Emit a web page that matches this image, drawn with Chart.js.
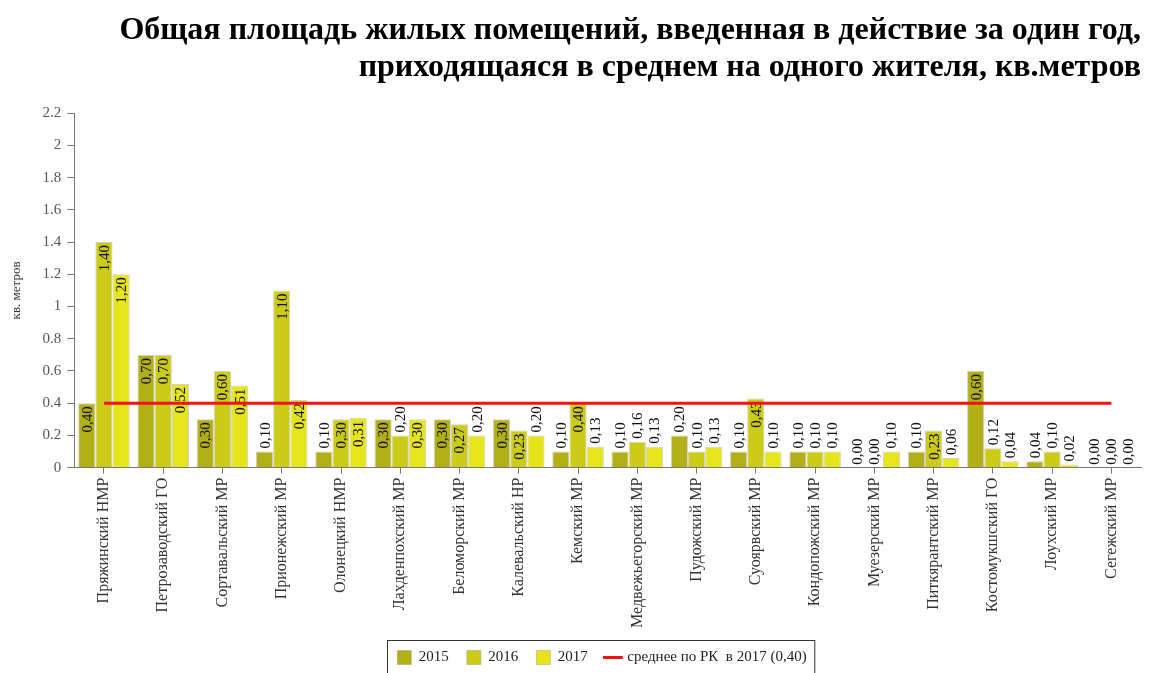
<!DOCTYPE html>
<html>
<head>
<meta charset="utf-8">
<script src="https://cdn.jsdelivr.net/npm/chart.js@4/dist/chart.umd.min.js"></script>
<style>
  body { margin: 0; background: #fff; }
</style>
</head>
<body>
<canvas id="housing" width="1151" height="673"></canvas>
<script>
// районы республики
const districts = ['Пряжинский НМР', 'Петрозаводский ГО', 'Сортавальский МР', 'Прионежский МР',
    'Олонецкий НМР', 'Лахденпохский МР', 'Беломорский МР', 'Калевальский НР', 'Кемский МР',
    'Медвежьегорский МР', 'Пудожский МР', 'Суоярвский МР', 'Кондопожский МР', 'Муезерский МР',
    'Питкярантский МР', 'Костомукшский ГО', 'Лоухский МР', 'Сегежский МР'];

const years = ['2015', '2016', '2017'];
const values2015 = [0.40, 0.70, 0.30, 0.10, 0.10, 0.30, 0.30, 0.30, 0.10, 0.10, 0.20, 0.10, 0.10, 0.00, 0.10, 0.60, 0.04, 0.00];
const values2016 = [1.40, 0.70, 0.60, 1.10, 0.30, 0.20, 0.27, 0.23, 0.40, 0.16, 0.10, 0.43, 0.10, 0.00, 0.23, 0.12, 0.10, 0.00];
const values2017 = [1.20, 0.52, 0.51, 0.42, 0.31, 0.30, 0.20, 0.20, 0.13, 0.13, 0.13, 0.10, 0.10, 0.10, 0.06, 0.04, 0.02, 0.00];

const averageRK = 0.40;
const averageLabel = 'среднее по РК  в 2017 (0,40)';

const barColors = ['#b3b017', '#cccb18', '#e6e51b'];
const serif = '"Liberation Serif", "Times New Roman", serif';

// подписи значений, повёрнутые на 90 градусов
const valueLabels = {
    id: 'valueLabels',
    afterDatasetDraw(chart, args) {
        const ds = chart.data.datasets[args.index];
        if (ds.type === 'line') return;
        const ctx = chart.ctx;
        ctx.save();
        ctx.font = '15px ' + serif;
        ctx.fillStyle = '#111';
        ctx.textBaseline = 'middle';
        args.meta.data.forEach(function(bar, j) {
            const txt = ds.data[j].toFixed(2).replace('.', ',');
            const w = ctx.measureText(txt).width;
            const h = bar.base - bar.y;
            ctx.save();
            ctx.translate(bar.x, bar.y);
            ctx.rotate(-Math.PI / 2);
            if (h > w + 7) {
                ctx.textAlign = 'right';
                ctx.fillText(txt, -3, 1);
            } else {
                ctx.textAlign = 'left';
                ctx.fillText(txt, 3, 1);
            }
            ctx.restore();
        });
        ctx.restore();
    }
};

// легенда чуть правее центра, в рамке
const legendFrame = {
    id: 'legendFrame',
    afterLayout(chart) {
        chart.legend.left += 27;
        chart.legend.right += 27;
    },
    afterDraw(chart) {
        const boxes = chart.legend.legendHitBoxes;
        if (!boxes || !boxes.length) return;
        var left = Infinity, right = -Infinity, top = Infinity;
        boxes.forEach(function(b) {
            left = Math.min(left, b.left);
            right = Math.max(right, b.left + b.width);
            top = Math.min(top, b.top);
        });
        const ctx = chart.ctx;
        ctx.save();
        ctx.strokeStyle = '#333';
        ctx.lineWidth = 1;
        ctx.strokeRect(Math.round(left - 10) + 0.5, Math.round(top - 10) + 0.5, right - left + 18, 60);
        ctx.restore();
    }
};

const makeBars = function(label, data, color) {
    return {
        label: label,
        data: data,
        backgroundColor: color,
        borderColor: 'rgba(150,150,140,0.45)',
        borderWidth: 1,
        borderSkipped: 'start',
        categoryPercentage: 0.87,
        barPercentage: 1.0,
        pointStyle: 'rect',
        order: 1
    };
};

new Chart(document.getElementById('housing'), {
    type: 'bar',
    data: {
        labels: districts,
        datasets: [
            makeBars(years[0], values2015, barColors[0]),
            makeBars(years[1], values2016, barColors[1]),
            makeBars(years[2], values2017, barColors[2]),
            {
                type: 'line',
                label: averageLabel,
                data: districts.map(function() { return averageRK; }),
                borderColor: '#f21212',
                backgroundColor: '#f21212',
                borderWidth: 3,
                pointRadius: 0,
                pointStyle: 'line',
                fill: false,
                order: 0
            }
        ]
    },
    options: {
        responsive: false,
        animation: false,
        layout: { padding: { left: 9, right: 10, top: 12, bottom: -2 } },
        plugins: {
            tooltip: { enabled: false },
            title: {
                display: true,
                text: ['Общая площадь жилых помещений, введенная в действие за один год,',
                       'приходящаяся в среднем на одного жителя, кв.метров'],
                align: 'end',
                color: '#000',
                font: { family: serif, size: 32, weight: 'bold', lineHeight: 1.16 },
                padding: { top: 0, bottom: 27 }
            },
            legend: {
                position: 'bottom',
                labels: {
                    sort: function(a, b) { return a.datasetIndex - b.datasetIndex; },
                    usePointStyle: true,
                    boxWidth: 14,
                    boxHeight: 14,
                    padding: 18,
                    color: '#222',
                    font: { family: serif, size: 15 }
                }
            }
        },
        scales: {
            x: {
                grid: { display: true, drawOnChartArea: false, offset: false, tickLength: 6, color: '#777' },
                border: { color: '#777' },
                ticks: {
                    autoSkip: false,
                    minRotation: 90,
                    maxRotation: 90,
                    color: '#333',
                    padding: 4,
                    font: { family: serif, size: 16 }
                }
            },
            y: {
                min: 0,
                max: 2.2,
                grid: { display: true, drawOnChartArea: false, tickLength: 7, color: '#777' },
                border: { color: '#777' },
                ticks: {
                    stepSize: 0.2,
                    color: '#555',
                    padding: 6,
                    font: { family: serif, size: 15 },
                    callback: function(v) { return String(+v.toFixed(1)); }
                },
                title: {
                    display: true,
                    text: 'кв. метров',
                    color: '#333',
                    font: { family: serif, size: 13 },
                    padding: { top: 0, bottom: 12 }
                }
            }
        }
    },
    plugins: [valueLabels, legendFrame]
});
</script>
</body>
</html>
